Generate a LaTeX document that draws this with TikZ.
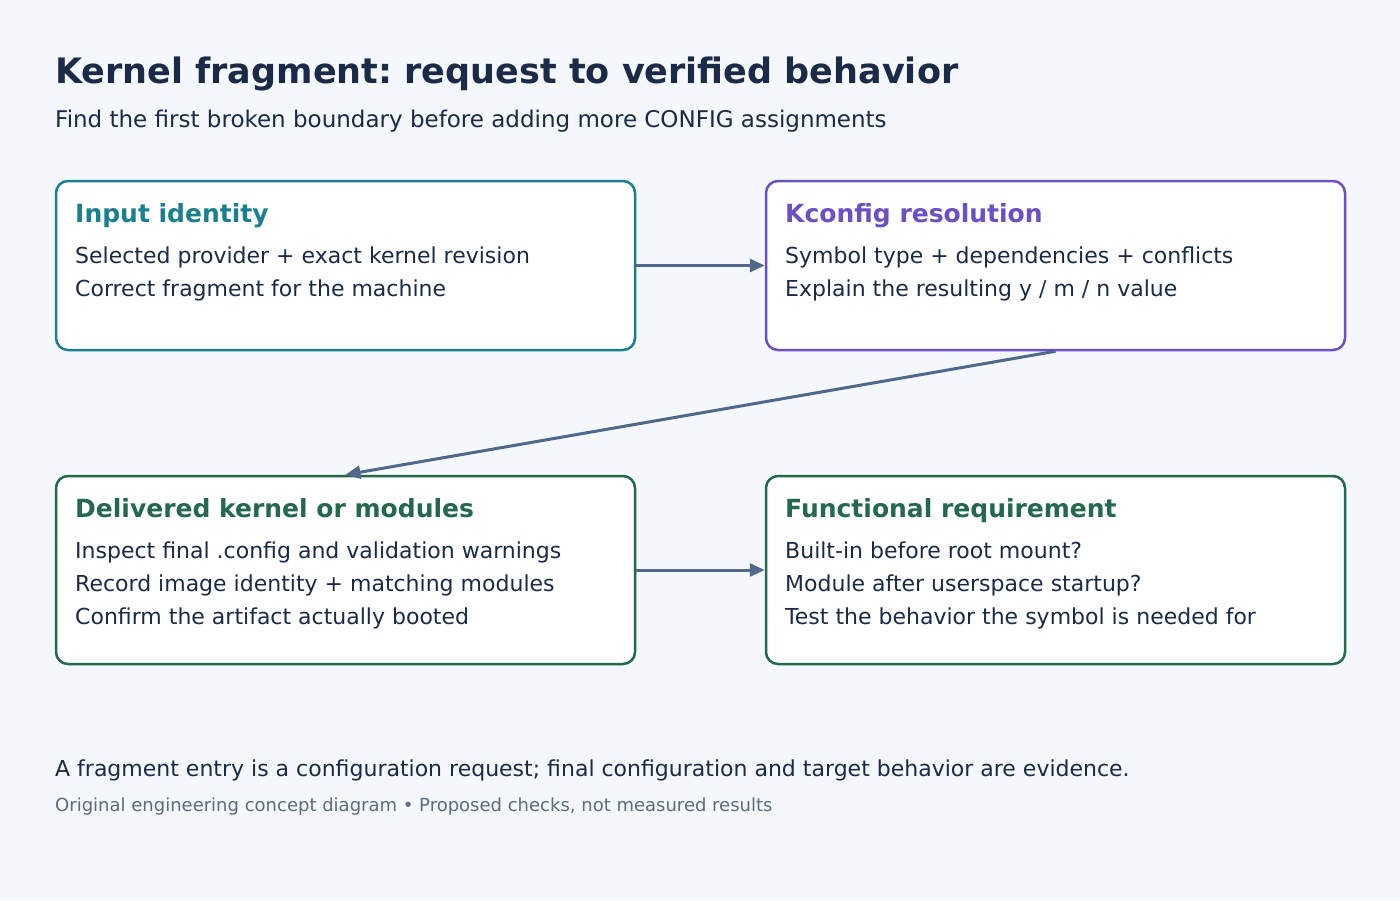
\documentclass[tikz,border=0pt]{standalone}
\usepackage{fontspec}
\setmainfont{DejaVu Sans}
\usetikzlibrary{arrows.meta}
\frenchspacing
\definecolor{bgpage}{HTML}{F4F7FB}
\definecolor{ink}{HTML}{1B2A47}
\definecolor{tealline}{HTML}{1A7F8F}
\definecolor{purpleline}{HTML}{6B4FC4}
\definecolor{greenline}{HTML}{24694C}
\definecolor{arrowline}{HTML}{50698A}
\definecolor{muted}{HTML}{5B6B80}
\begin{document}
\begin{tikzpicture}
    [
    x=1pt,y=-1pt,
    box/.style={draw=#1,line width=2.5pt,fill=white,rounded corners=12pt,minimum width=579pt,minimum height=169pt,inner sep=0pt},
    tallbox/.style={box=#1,minimum height=188pt},
    head/.style={anchor=base west,inner sep=0pt,text=#1,font=\fontsize{25}{29}\selectfont\bfseries},
    body/.style={anchor=base west,inner sep=0pt,text=ink,font=\fontsize{22}{26}\selectfont},
    flow/.style={draw=arrowline,line width=3pt,-{Triangle[length=15pt,width=13pt]}}
    ]
    \fill [bgpage] (0,0) rectangle (1400,900);
    \node (title) at (55,83) [anchor=base west,inner sep=0pt,text=ink,font=\fontsize{35}{40}\selectfont\bfseries] {Kernel fragment: request to verified behavior};
    \node (subtitle) at (55,127) [anchor=base west,inner sep=0pt,text=ink,font=\fontsize{23}{27}\selectfont] {Find the first broken boundary before adding more CONFIG assignments};
    \node (input) at (345.5,265.5) [box=tealline] {};
    \node (kconfig) at (1055.5,265.5) [box=purpleline] {};
    \node (delivered) at (345.5,570) [tallbox=greenline] {};
    \node (functional) at (1055.5,570) [tallbox=greenline] {};
    \node (inputhead) at (75,222) [head=tealline] {Input identity};
    \node (inputA) at (75,263) [body] {Selected provider + exact kernel revision};
    \node (inputB) at (75,296) [body] {Correct fragment for the machine};
    \node (kconfighead) at (785,222) [head=purpleline] {Kconfig resolution};
    \node (kconfigA) at (785,263) [body] {Symbol type + dependencies + conflicts};
    \node (kconfigB) at (785,296) [body] {Explain the resulting y / m / n value};
    \node (deliveredhead) at (75,517) [head=greenline] {Delivered kernel or modules};
    \node (deliveredA) at (75,558) [body] {Inspect final .config and validation warnings};
    \node (deliveredB) at (75,591) [body] {Record image identity + matching modules};
    \node (deliveredC) at (75,624) [body] {Confirm the artifact actually booted};
    \node (functionalhead) at (785,517) [head=greenline] {Functional requirement};
    \node (functionalA) at (785,558) [body] {Built-in before root mount?};
    \node (functionalB) at (785,591) [body] {Module after userspace startup?};
    \node (functionalC) at (785,624) [body] {Test the behavior the symbol is needed for};
    \node (note) at (55,776) [anchor=base west,inner sep=0pt,text=ink,font=\fontsize{22}{26}\selectfont] {A fragment entry is a configuration request; final configuration and target behavior are evidence.};
    \node (credit) at (55,811) [anchor=base west,inner sep=0pt,text=muted,font=\fontsize{18}{21}\selectfont] {Original engineering concept diagram • Proposed checks, not measured results};
    \draw [flow] (input) to (kconfig);
    \draw [flow] (kconfig.south) to (delivered.north);
    \draw [flow] (delivered) to (functional);
  \end{tikzpicture}
\end{document}
